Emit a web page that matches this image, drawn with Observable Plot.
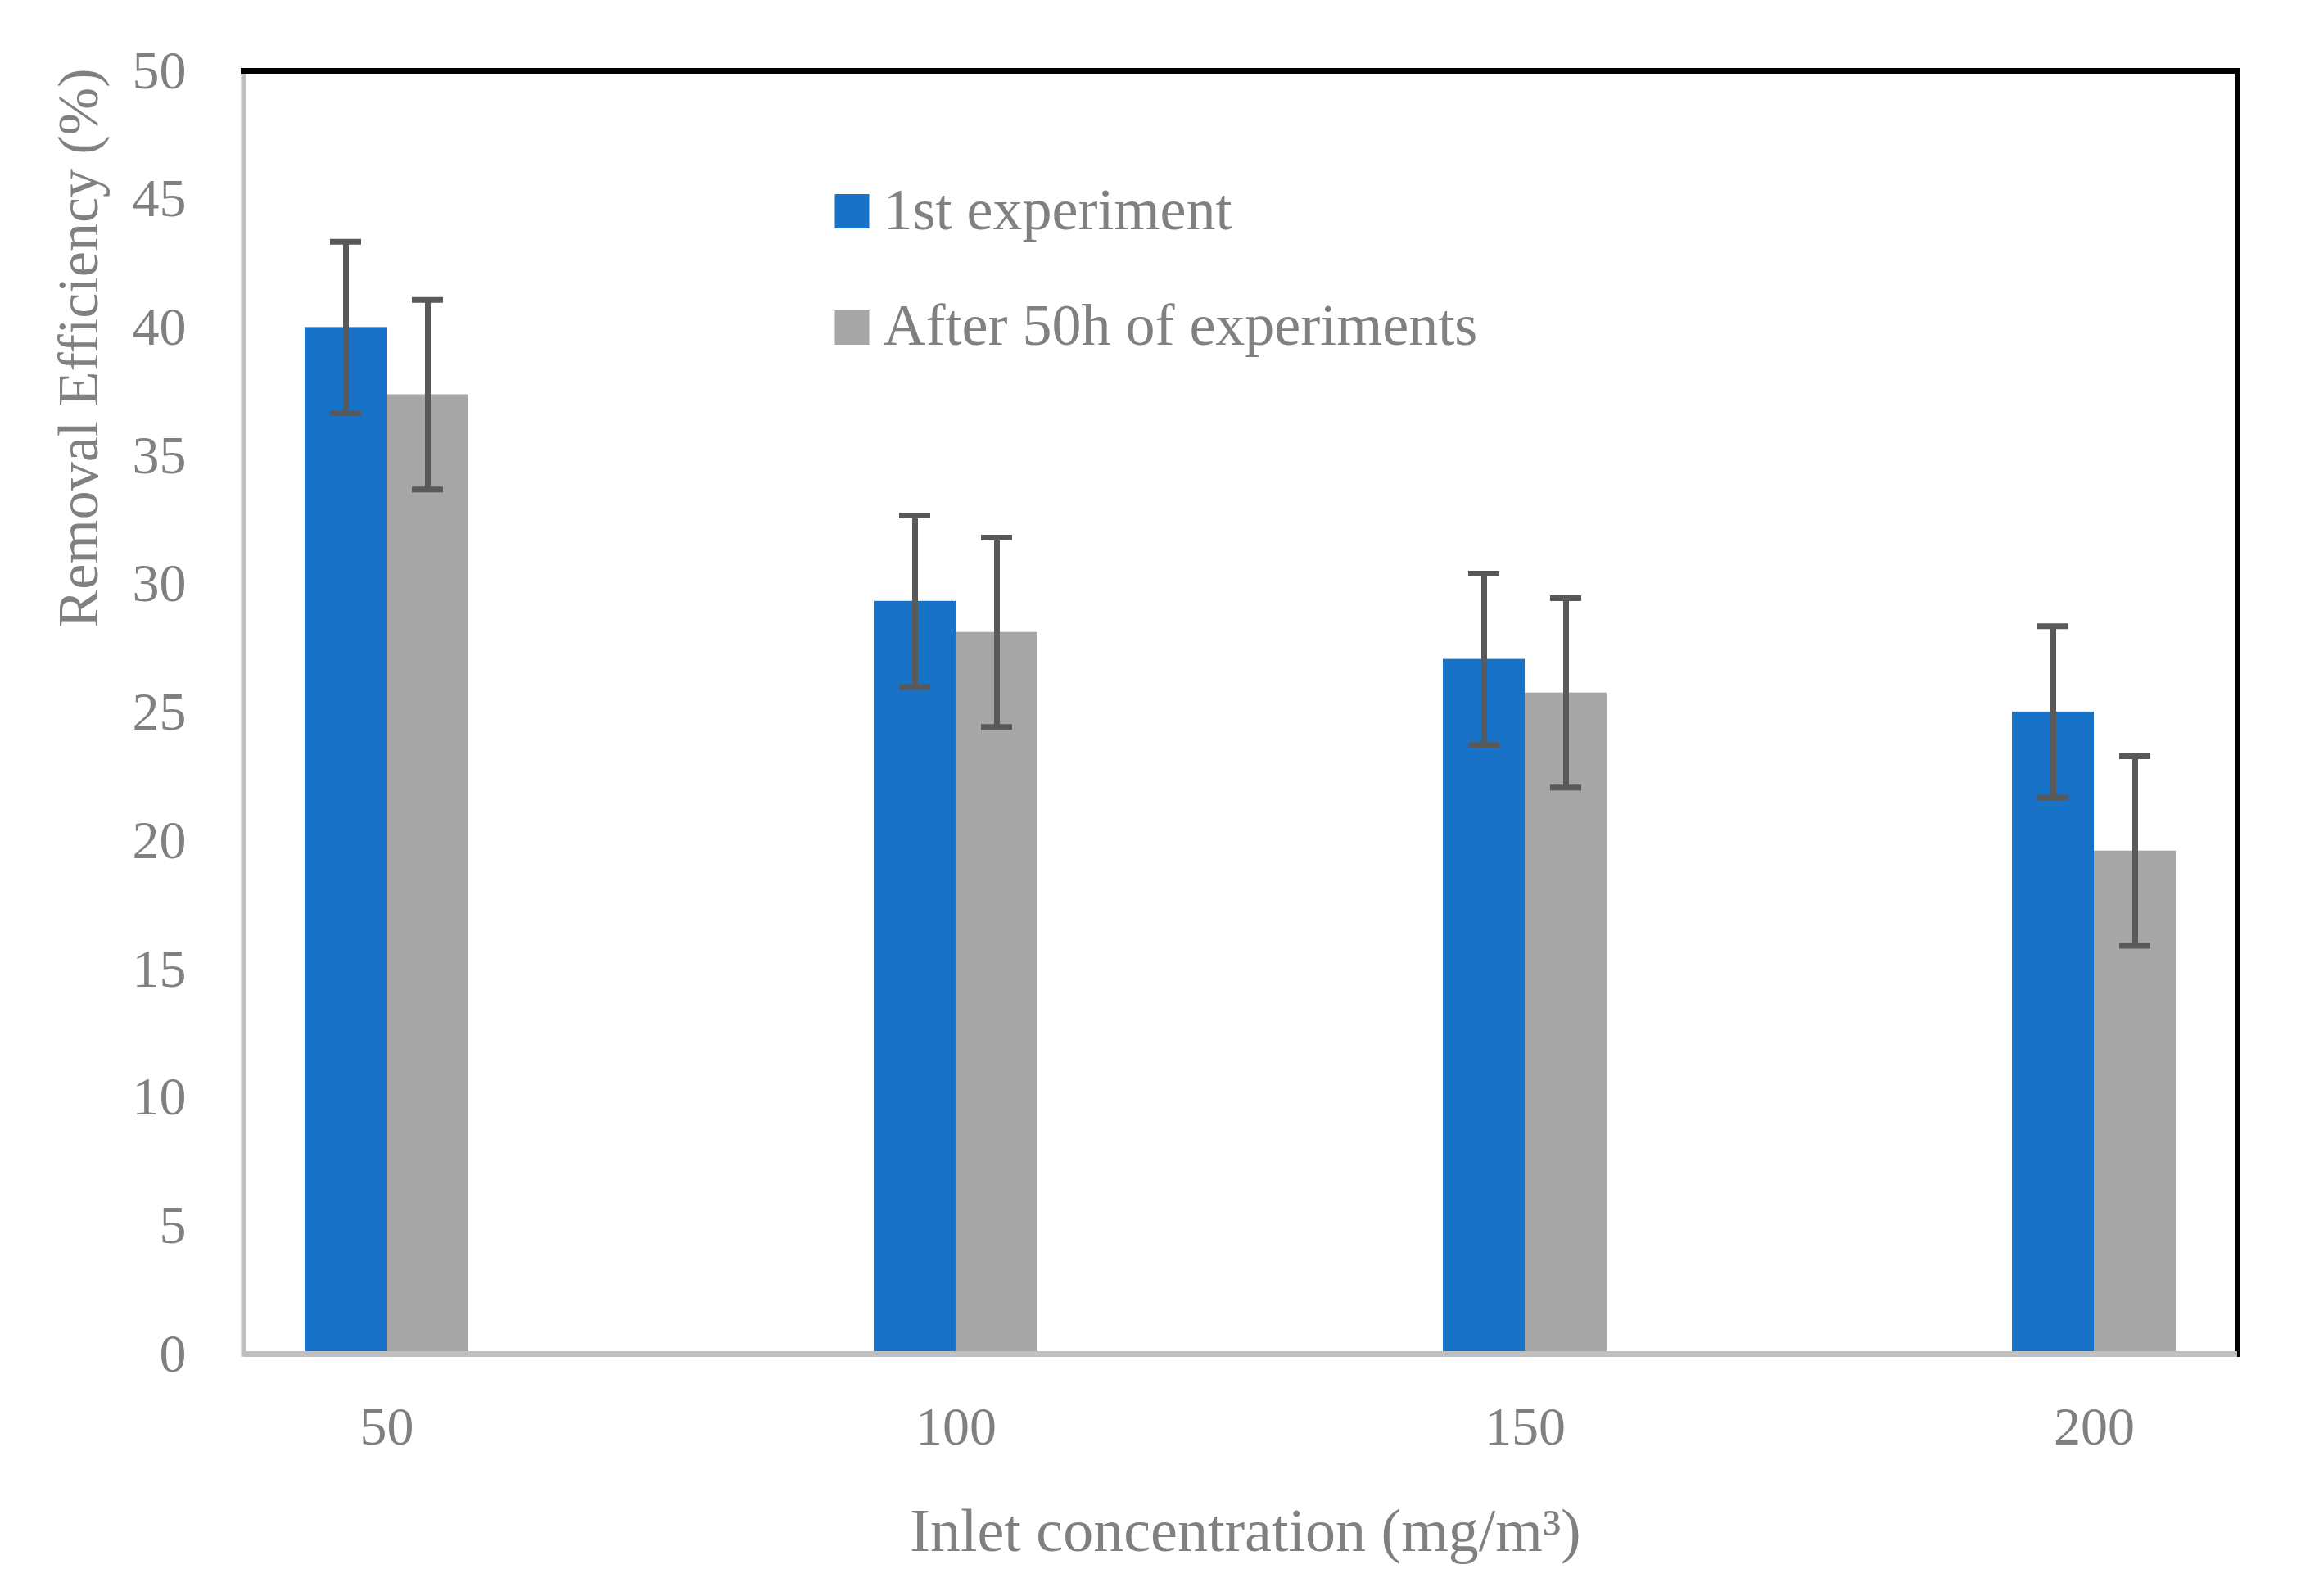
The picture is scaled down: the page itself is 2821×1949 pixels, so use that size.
<!DOCTYPE html>
<html>
<head>
<meta charset="utf-8">
<script src="https://cdn.jsdelivr.net/npm/d3@7"></script>
<script src="https://cdn.jsdelivr.net/npm/@observablehq/plot@0.6"></script>
<style>
  html, body { margin: 0; padding: 0; background: #ffffff; }
  #chart { width: 2821px; height: 1949px; }
</style>
</head>
<body>
<div id="chart"></div>
<script>
// ---- data ----
const concentrations = [50, 100, 150, 200];
const seriesNames = ["1st experiment", "After 50h of experiments"];
const firstValues = [40.0, 29.33, 27.07, 25.02];
const firstErrors = [3.34, 3.34, 3.34, 3.34];
const afterValues = [37.38, 28.12, 25.76, 19.60];
const afterErrors = [3.69, 3.69, 3.69, 3.69];
const yTicks = [0, 5, 10, 15, 20, 25, 30, 35, 40, 45, 50];
const seriesColors = ["#1873c8", "#a6a6a6"];
const yLabel = "Removal Efficiency (%)";
const xLabel = "Inlet concentration (mg/m\u00B3)";

// ---- rows ----
const firstRows = concentrations.map((c, i) => ({conc: c, value: firstValues[i], lo: firstValues[i] - firstErrors[i], hi: firstValues[i] + firstErrors[i]}));
const afterRows = concentrations.map((c, i) => ({conc: c, value: afterValues[i], lo: afterValues[i] - afterErrors[i], hi: afterValues[i] + afterErrors[i]}));

const textColor = "#808080";
const errColor = "#595959";

function errorBars(rows, dx) {
  return [
    Plot.ruleX(rows, {x: "conc", y1: "lo", y2: "hi", dx, stroke: errColor, strokeWidth: 7}),
    Plot.tickY(rows, {x: "conc", y: "hi", dx, insetLeft: 81, insetRight: 81, stroke: errColor, strokeWidth: 7}),
    Plot.tickY(rows, {x: "conc", y: "lo", dx, insetLeft: 81, insetRight: 81, stroke: errColor, strokeWidth: 7})
  ];
}

const legendMarks = seriesNames.flatMap((name, i) => [
  Plot.dot([name], {frameAnchor: "top-left", dx: 743, dy: 171.5 + i * 142, symbol: "square", r: 23.7, fill: seriesColors[i], stroke: null}),
  Plot.text([name], {frameAnchor: "top-left", dx: 781, dy: 170 + i * 141, text: d => d, textAnchor: "start", lineAnchor: "middle", fontSize: 72, fill: textColor})
]);

const chart = Plot.plot({
  width: 2821,
  height: 1949,
  marginLeft: 297,
  marginRight: 89,
  marginTop: 86,
  marginBottom: 296,
  style: {fontFamily: "'Liberation Serif', 'Times New Roman', serif", background: "#ffffff"},
  x: {domain: concentrations, paddingInner: 0.7125, paddingOuter: 0.10625, label: null},
  y: {domain: [0, 50], label: null},
  marks: [
    Plot.barY(firstRows, {x: "conc", y: "value", fill: seriesColors[0], insetRight: 100}),
    Plot.barY(afterRows, {x: "conc", y: "value", fill: seriesColors[1], insetLeft: 100}),
    ...errorBars(firstRows, -50),
    ...errorBars(afterRows, 50),
    Plot.frame({anchor: "left", stroke: "#bfbfbf", strokeWidth: 6}),
    Plot.frame({anchor: "top", stroke: "#000000", strokeWidth: 7}),
    Plot.frame({anchor: "right", stroke: "#000000", strokeWidth: 7}),
    Plot.ruleY([0], {stroke: "#bfbfbf", strokeWidth: 7}),
    Plot.axisY({ticks: yTicks, tickSize: 0, tickPadding: 70, fontSize: 66, fill: textColor, label: null}),
    Plot.axisX({tickSize: 0, tickPadding: 64, fontSize: 66, fill: textColor, label: null}),
    Plot.text([yLabel], {frameAnchor: "left", dx: -201, dy: -445, rotate: -90, text: d => d, textAnchor: "middle", lineAnchor: "middle", fontSize: 70, fill: textColor}),
    Plot.text([xLabel], {frameAnchor: "bottom", dx: 6, dy: 217, text: d => d, textAnchor: "middle", lineAnchor: "middle", fontSize: 74, fill: textColor}),
    ...legendMarks
  ]
});
document.getElementById("chart").appendChild(chart);
</script>
</body>
</html>
